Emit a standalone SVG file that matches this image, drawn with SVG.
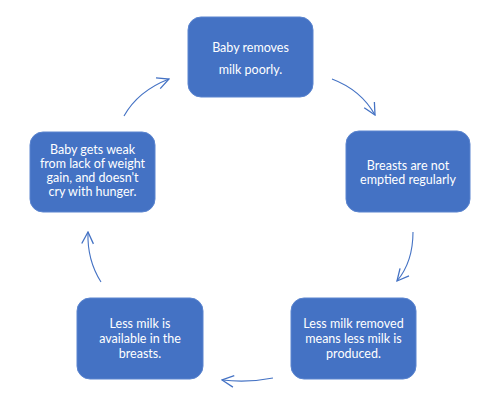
<svg xmlns="http://www.w3.org/2000/svg" width="500" height="407" viewBox="0 0 500 407">
<style>
.box{fill:#4472C4;stroke:#5a84cf;stroke-width:1}
.t{font-family:Lato,"Open Sans","Liberation Sans",sans-serif;font-size:12.5px;fill:#ffffff;text-anchor:middle}
.c{fill:none;stroke:#4472C4;stroke-width:1.1;marker-end:url(#ah)}
</style>
<defs>
<marker id="ah" markerUnits="userSpaceOnUse" markerWidth="14" markerHeight="14" viewBox="-11 -6 12 12" refX="0" refY="0" orient="auto">
<path d="M-10,-5 L0,0 L-10,5" fill="none" stroke="#4472C4" stroke-width="1.1"/>
</marker>
</defs>
<rect width="500" height="407" fill="#ffffff"/>
<g id="connectors">
<path class="c" d="M124,116 Q138,91 169,79"/>
<path class="c" d="M332,79 Q361,90 375,115"/>
<path class="c" d="M413,232 Q413,262 397,281"/>
<path class="c" d="M273,378 Q248,383 222,380"/>
<path class="c" d="M101,282 Q87,260 88,232"/>
</g>
<g id="n1">
<rect class="box" x="188" y="17" width="125" height="80" rx="13"/>
<text class="t" x="250.5" y="51.5">Baby removes</text>
<text class="t" x="250.5" y="73.5">milk poorly.</text>
</g>
<g id="n2">
<rect class="box" x="346" y="131" width="124" height="81" rx="13"/>
<text class="t" x="408" y="169.5">Breasts are not</text>
<text class="t" x="408" y="184">emptied regularly</text>
</g>
<g id="n3">
<rect class="box" x="291" y="298" width="125" height="81" rx="13"/>
<text class="t" x="353.5" y="327.5">Less milk removed</text>
<text class="t" x="353.5" y="342.5">means less milk is</text>
<text class="t" x="353.5" y="357.5">produced.</text>
</g>
<g id="n4">
<rect class="box" x="77" y="298" width="126" height="81" rx="13"/>
<text class="t" x="140" y="327.5">Less milk is</text>
<text class="t" x="140" y="342.5">available in the</text>
<text class="t" x="140" y="357.5">breasts.</text>
</g>
<g id="n5">
<rect class="box" x="30" y="132" width="125" height="80" rx="13"/>
<text class="t" x="92.5" y="153.5">Baby gets weak</text>
<text class="t" x="92.5" y="167.5">from lack of weight</text>
<text class="t" x="92.5" y="181.5">gain, and doesn't</text>
<text class="t" x="92.5" y="195.5">cry with hunger.</text>
</g>
</svg>
